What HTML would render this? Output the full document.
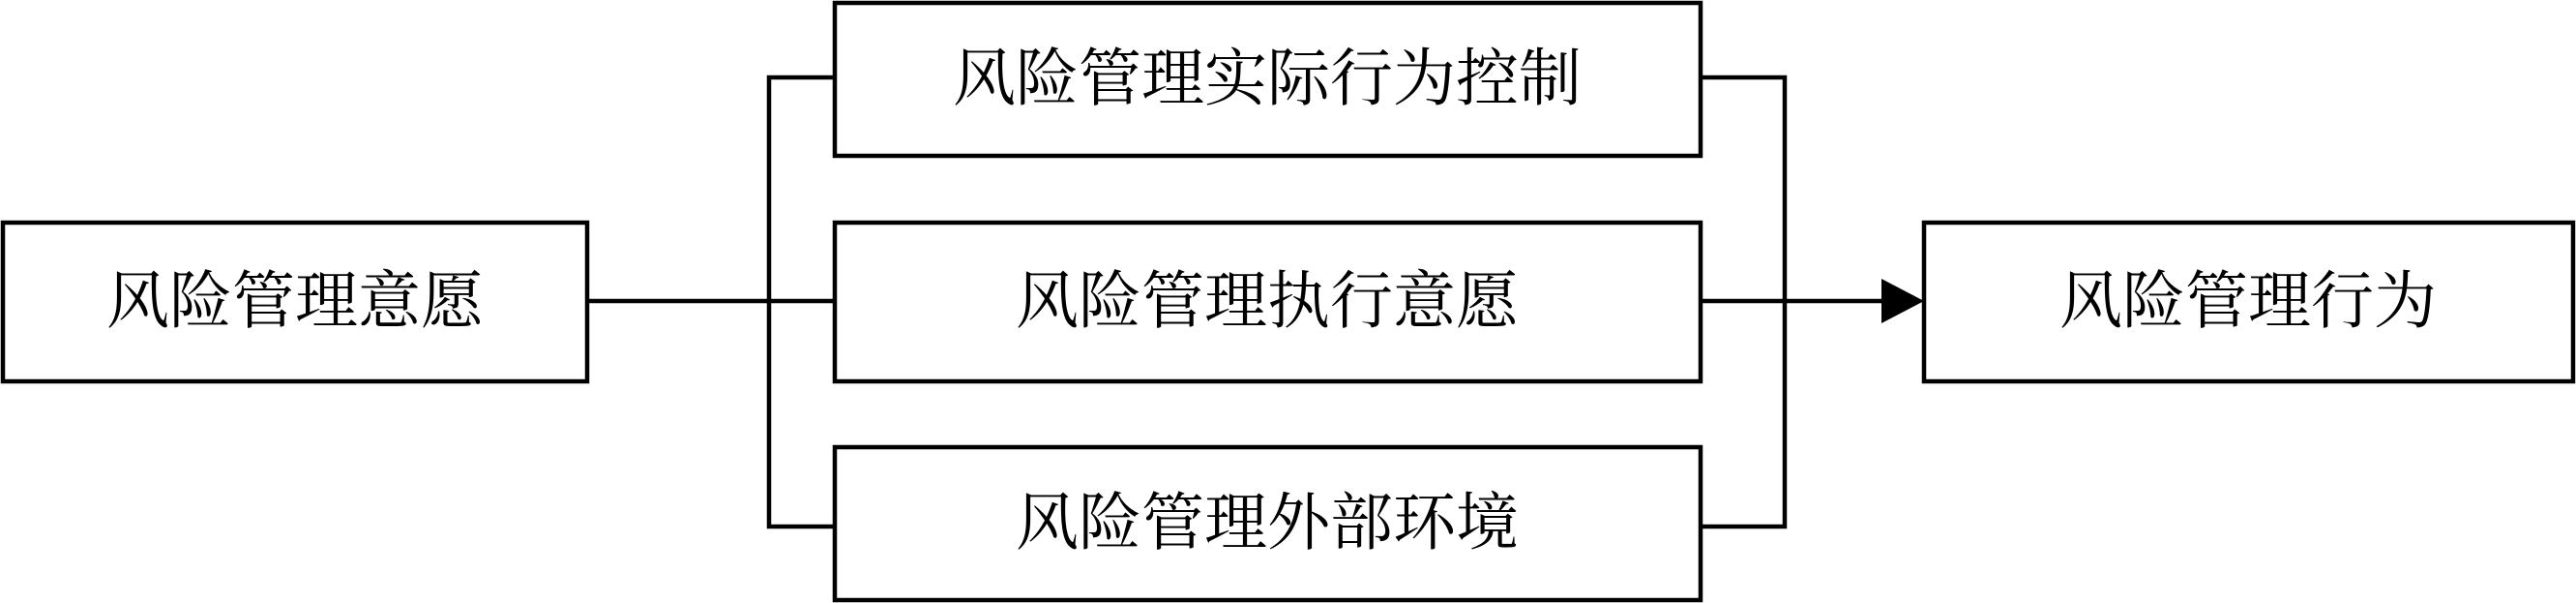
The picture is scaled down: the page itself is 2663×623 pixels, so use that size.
<!DOCTYPE html>
<html><head><meta charset="utf-8"><style>
html,body{margin:0;padding:0;background:#fff;}
svg{display:block}
text{font-family:"Liberation Serif","Noto Serif CJK SC",serif;font-size:65px;fill:#000;text-anchor:middle;dominant-baseline:central}
</style></head><body>
<svg width="2663" height="623" viewBox="0 0 2663 623" xmlns="http://www.w3.org/2000/svg">
<g fill="none" stroke="#000" stroke-width="4.5">
<rect x="3" y="230" width="604" height="164"/>
<rect x="863" y="3" width="895" height="158"/>
<rect x="863" y="230" width="895" height="164"/>
<rect x="863" y="462" width="895" height="158"/>
<rect x="1989" y="230" width="671" height="164"/>
<polyline points="863,80 795,80 795,544 863,544"/>
<line x1="607" y1="311" x2="863" y2="311"/>
<polyline points="1758,80 1845,80 1845,544 1758,544"/>
<line x1="1758" y1="311" x2="1950" y2="311"/>
</g>
<polygon points="1945,288 1989,311 1945,334" fill="#000"/>
<text x="305" y="312">风险管理意愿</text>
<text x="1310" y="82">风险管理实际行为控制</text>
<text x="1310" y="312">风险管理执行意愿</text>
<text x="1310" y="541">风险管理外部环境</text>
<text x="2324" y="312">风险管理行为</text>
</svg>
</body></html>
